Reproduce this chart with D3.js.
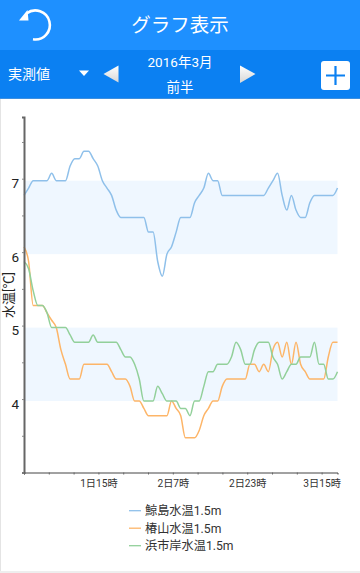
<!DOCTYPE html>
<html>
<head>
<meta charset="utf-8">
<script src="https://cdn.jsdelivr.net/npm/d3@7"></script>
<style>
html, body { margin: 0; padding: 0; background: #fff; }
svg { display: block; font-family: Roboto, "Noto Sans CJK JP", sans-serif; }
</style>
</head>
<body>
<svg width="360" height="573"></svg>
<script>
const seriesNames = ["鯨島水温1.5m", "椿山水温1.5m", "浜市岸水温1.5m"]
const seriesColors = ["#8fc0ea", "#fdb568", "#92d09a"]

const kujira = [6.8,6.9,7.0,7.0,7.0,7.0,7.1,7.0,7.0,7.0,7.2,7.3,7.3,7.4,7.4,7.3,7.2,7.0,6.9,6.8,6.6,6.5,6.5,6.5,6.5,6.5,6.5,6.3,6.3,5.9,5.7,6.0,6.1,6.3,6.5,6.5,6.5,6.7,6.8,6.9,7.1,7.0,7.0,6.8,6.8,6.8,6.8,6.8,6.8,6.8,6.8,6.8,6.8,6.9,7.0,7.1,6.8,6.6,6.8,6.6,6.5,6.5,6.7,6.8,6.8,6.8,6.8,6.8,6.9]
const tsubaki = [6.1,5.9,5.3,5.3,5.3,5.2,5.1,5.0,4.7,4.5,4.3,4.3,4.3,4.5,4.5,4.5,4.5,4.5,4.5,4.4,4.3,4.3,4.3,4.2,4.0,4.0,3.9,3.8,3.8,3.8,3.8,3.8,4.0,3.9,3.8,3.5,3.5,3.5,3.6,3.8,3.9,4.0,4.0,4.2,4.3,4.3,4.3,4.3,4.3,4.5,4.5,4.4,4.5,4.4,4.7,4.8,4.6,4.8,4.5,4.8,4.5,4.4,4.3,4.3,4.3,4.3,4.6,4.8,4.8]
const hamaichi = [5.9,5.8,5.5,5.3,5.3,5.2,5.0,5.0,5.0,5.0,4.9,4.8,4.8,4.8,4.8,4.9,4.8,4.8,4.8,4.8,4.8,4.7,4.6,4.6,4.5,4.3,4.0,4.0,4.0,4.2,4.1,4.0,4.0,4.0,3.9,3.9,3.8,4.0,4.0,4.2,4.4,4.4,4.5,4.5,4.5,4.6,4.8,4.7,4.5,4.5,4.7,4.8,4.8,4.8,4.6,4.5,4.3,4.4,4.5,4.5,4.6,4.6,4.6,4.8,4.5,4.5,4.3,4.3,4.4]

const yMajorTicks = [3, 3.5, 4, 4.5, 5, 5.5, 6, 6.5, 7, 7.5]
const bands = [[6, 7], [4, 5]]
const xTickLabels = ["", "", "", "1日15時", "", "", "2日7時", "", "", "2日23時", "", "", "3日15時"]

const svg = d3.select("svg")

const xScale = d3.scaleLinear().domain([0, kujira.length - 1]).range([24, 337.5])
const xTickScale = d3.scaleLinear().domain([0, 12.64]).range([24, 337.5])
const yScale = d3.scaleLinear().domain([3, 7.84]).range([472.5, 117])

// header
svg.append("rect").attr("width", 360).attr("height", 50).attr("fill", "#1e90ff")
svg.append("rect").attr("y", 50).attr("width", 360).attr("height", 49).attr("fill", "#0b80f2")
svg.append("rect").attr("y", 98).attr("width", 360).attr("height", 1).attr("fill", "#3d8fe0")

svg.append("path")
    .attr("d", "M26.5 13.5 A 14.5 14.5 0 1 1 33 39.3")
    .attr("fill", "none")
    .attr("stroke", "white")
    .attr("stroke-width", 2.6)
svg.append("path").attr("d", "M19 20.5 L27.5 10 L28.5 20.5 Z").attr("fill", "white")

svg.append("text")
    .attr("x", 180).attr("y", 31.5)
    .attr("text-anchor", "middle")
    .attr("font-size", 19.5)
    .attr("fill", "white")
    .text("グラフ表示")

svg.append("text").attr("x", 8).attr("y", 79).attr("font-size", 14).attr("fill", "white").text("実測値")
svg.append("path").attr("d", "M79 70.5 L89 70.5 L84 76 Z").attr("fill", "white")

const arrowGrad = svg.append("defs").append("linearGradient")
    .attr("id", "arrowGrad").attr("x1", 0).attr("x2", 0).attr("y1", 0).attr("y2", 1)
arrowGrad.append("stop").attr("offset", "0%").attr("stop-color", "#ffffff")
arrowGrad.append("stop").attr("offset", "100%").attr("stop-color", "#d6d6d6")
svg.append("path").attr("d", "M103.5 74 L118.5 65.5 L118.5 82.5 Z").attr("fill", "url(#arrowGrad)")
svg.append("path").attr("d", "M240 65.5 L255.5 74 L240 83 Z").attr("fill", "url(#arrowGrad)")

svg.append("text").attr("x", 180).attr("y", 67)
    .attr("text-anchor", "middle").attr("font-size", 13.5).attr("fill", "white").text("2016年3月")
svg.append("text").attr("x", 180).attr("y", 92)
    .attr("text-anchor", "middle").attr("font-size", 13.5).attr("fill", "white").text("前半")

svg.append("rect").attr("x", 321).attr("y", 61).attr("width", 29).attr("height", 29).attr("rx", 3).attr("fill", "white")
svg.append("path").attr("d", "M335.5 66 V85 M326 75.5 H345")
    .attr("stroke", "#0b80f2").attr("stroke-width", 2.2)

// left and bottom edge of the screen
svg.append("rect").attr("x", 0).attr("y", 99).attr("width", 1).attr("height", 474).attr("fill", "#e4e4e4")
svg.append("rect").attr("x", 0).attr("y", 571).attr("width", 360).attr("height", 2).attr("fill", "#eeeeee")

// the bands and lines sit about 2px under the ticks in the original
const plot = svg.append("g").attr("transform", "translate(0,2)")

plot.selectAll("rect.band")
    .data(bands)
    .enter()
    .append("rect")
    .attr("class", "band")
    .attr("x", xScale(0))
    .attr("width", xScale.range()[1] - xScale(0))
    .attr("y", d => yScale(d[1]))
    .attr("height", d => yScale(d[0]) - yScale(d[1]))
    .attr("fill", "#eff7ff")

const line = d3.line()
    .x((d, i) => xScale(i))
    .y(d => yScale(d))
    .curve(d3.curveMonotoneX)

plot.selectAll("path.series")
    .data([kujira, tsubaki, hamaichi])
    .enter()
    .append("path")
    .attr("class", "series")
    .attr("d", line)
    .attr("fill", "none")
    .attr("stroke", (d, i) => seriesColors[i])
    .attr("stroke-width", 1.5)

// axes
const yAxis = d3.axisLeft(yScale)
    .tickValues(yMajorTicks)
    .tickSize(2)
    .tickPadding(3)
    .tickFormat(d => Number.isInteger(d) && d > 3 ? d : "")

const yAxisG = svg.append("g")
    .attr("id", "yAxisG")
    .attr("transform", "translate(24,0)")
    .call(yAxis)
yAxisG.select(".domain").attr("stroke", "#666").attr("stroke-width", 2)
yAxisG.selectAll(".tick line").attr("stroke", "#888")
yAxisG.selectAll("text")
    .attr("font-family", "Roboto, sans-serif")
    .attr("font-size", 13.5)
    .attr("fill", "#222")
    .attr("dy", "9px")

const xAxis = d3.axisBottom(xTickScale)
    .tickValues(d3.range(xTickLabels.length))
    .tickSize(2)
    .tickPadding(5)
    .tickFormat(i => xTickLabels[i])

const xAxisG = svg.append("g")
    .attr("id", "xAxisG")
    .attr("transform", "translate(0,472.5)")
    .call(xAxis)
xAxisG.select(".domain").attr("stroke", "#444").attr("stroke-width", 1)
xAxisG.selectAll(".tick line").attr("stroke", "#666")
xAxisG.selectAll("text")
    .attr("font-family", "Roboto, 'Noto Sans CJK JP', sans-serif")
    .attr("font-size", 10.2)
    .attr("fill", "#333")

svg.append("text")
    .attr("transform", "translate(12.5,295) rotate(-90)")
    .attr("text-anchor", "middle")
    .attr("font-size", 13)
    .attr("fill", "#222")
    .text("水温[℃]")

// legend
const legendY = d3.scalePoint().domain(seriesNames).range([510.7, 545.7])

const legend = svg.selectAll("g.legend")
    .data(seriesNames)
    .enter()
    .append("g")
    .attr("class", "legend")
    .attr("transform", d => `translate(129,${legendY(d)})`)

legend.append("line")
    .attr("x1", 0).attr("x2", 12)
    .attr("stroke", (d, i) => seriesColors[i])
    .attr("stroke-width", 1.3)

legend.append("text")
    .attr("x", 16)
    .attr("dy", "0.36em")
    .attr("font-size", 12.2)
    .attr("fill", "#333")
    .text(d => d)
</script>
</body>
</html>
